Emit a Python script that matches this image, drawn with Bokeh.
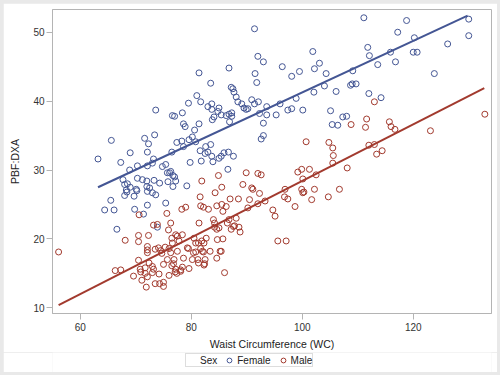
from bokeh.plotting import figure
from bokeh.layouts import column
from bokeh.models import Range1d, SingleIntervalTicker, Legend, LegendItem, AllLabels
from bokeh.embed import file_html
from bokeh.resources import INLINE

# ---------------- data ----------------
female_wc = [63.2, 64.4, 65.5, 65.6, 66.1, 66.6, 67.3, 67.7, 68.0, 68.4,
             68.5, 68.9, 69.0, 69.7, 69.8, 70.2, 70.3, 70.3, 71.2, 71.4,
             71.6, 72.0, 72.1, 72.1, 72.1, 72.1, 72.3, 73.0, 73.0, 73.2,
             73.3, 73.4, 73.6, 73.6, 73.9, 74.8, 75.4, 75.4, 75.7, 76.3,
             76.5, 76.7, 76.6, 77.0, 77.2, 77.4, 78.3, 78.4, 78.6, 78.6,
             78.9, 79.5, 79.6, 79.8, 80.2, 80.6, 80.8, 81.0, 81.4, 81.4,
             81.6, 81.7, 81.8, 82.5, 82.6, 83.0, 83.0, 83.5, 83.5, 83.7,
             83.7, 83.7, 83.8, 83.9, 84.1, 84.8, 85.0, 85.0, 85.4, 85.4,
             85.9, 86.3, 86.6, 86.7, 86.8, 86.8, 86.9, 87.2, 87.3, 87.3,
             87.5, 87.6, 87.7, 88.1, 88.4, 89.1, 89.5, 89.9, 90.2, 90.9,
             91.4, 91.4, 91.5, 91.8, 92.0, 92.1, 92.3, 92.6, 93.0, 93.0,
             93.0, 93.6, 93.6, 95.3, 96.0, 96.4, 97.4, 98.1, 98.1, 98.9,
             99.5, 100.1, 101.9, 102.1, 102.2, 103.1, 104.0, 104.3, 105.1, 105.4,
             106.1, 106.4, 107.3, 108.0, 108.7, 109.0, 109.1, 109.7, 111.1, 111.8,
             112.0, 112.1, 113.6, 114.2, 115.9, 116.8, 117.2, 118.8, 120.0, 120.2,
             120.7, 123.8, 126.2, 130.0, 130.0,
             68.0, 68.3, 69.0, 70.1, 72.0, 72.5, 74.3, 76.7, 79.2, 75.8,
             77.0, 76.1]
female_pbf = [31.6, 24.2, 25.6, 34.3, 24.2, 21.4, 31.1, 28.6, 26.3, 26.8,
              28.0, 30.0, 32.5, 26.2, 24.3, 27.0, 30.6, 28.8, 28.6, 23.6,
              34.6, 28.4, 30.6, 32.6, 24.9, 26.9, 33.8, 31.0, 26.7, 31.6,
              28.5, 35.1, 38.7, 26.4, 21.7, 30.5, 30.8, 25.2, 29.6, 29.8,
              32.6, 29.2, 37.9, 37.8, 28.4, 34.0, 34.2, 38.3, 33.4, 36.7,
              36.3, 39.7, 34.4, 31.1, 34.8, 35.8, 34.1, 40.8, 44.1, 36.7,
              32.8, 39.9, 31.3, 32.4, 33.4, 39.2, 32.6, 42.6, 33.7, 39.6,
              38.8, 32.0, 37.3, 31.2, 37.7, 38.5, 39.0, 31.7, 38.0, 32.0,
              32.5, 37.9, 30.1, 32.6, 44.8, 38.1, 37.0, 42.0, 38.3, 37.8,
              41.8, 32.0, 41.3, 40.6, 39.9, 39.6, 39.0, 38.8, 38.9, 40.2,
              50.5, 39.6, 44.0, 42.7, 46.5, 39.9, 38.2, 34.5, 45.7, 36.8,
              35.0, 39.2, 38.0, 38.0, 39.6, 45.0, 38.7, 38.9, 43.6, 40.4,
              44.3, 38.7, 47.2, 41.3, 44.7, 45.5, 42.2, 44.0, 38.6, 36.6,
              41.4, 36.5, 37.7, 37.8, 42.3, 42.5, 44.4, 42.5, 52.1, 47.8,
              41.1, 46.6, 45.3, 40.5, 47.1, 45.7, 50.0, 51.7, 47.1, 49.2,
              47.1, 44.0, 48.3, 51.9, 49.5,
              27.9, 27.1, 27.5, 27.2, 27.6, 27.4, 28.1, 27.6, 27.7, 28.3,
              29.0, 29.6]

male_wc = [56.1, 66.3, 67.3, 68.1, 69.6, 70.5, 70.5, 70.5, 70.6, 70.8,
           70.9, 71.1, 71.7, 71.7, 71.9, 72.1, 72.1, 72.1, 72.3, 72.1,
           72.4, 73.2, 73.0, 73.2, 73.0, 73.5, 73.5, 73.9, 74.1, 74.5,
           74.7, 74.2, 74.3, 75.0, 75.0, 75.0, 75.3, 75.6, 75.7, 75.9,
           76.3, 76.0, 76.0, 76.3, 76.5, 76.6, 76.5, 76.8, 76.9, 77.1,
           77.2, 77.4, 77.2, 77.5, 77.5, 77.8, 78.1, 78.1, 78.3, 78.4,
           78.6, 78.4, 79.0, 79.3, 79.5, 79.6, 80.2, 80.4, 80.8, 80.5,
           80.8, 81.3, 81.4, 81.6, 81.7, 82.2, 81.7, 82.3, 82.5, 82.3,
           82.0, 82.7, 83.1, 83.4, 84.0, 84.2, 84.2, 84.3, 84.6, 84.6,
           85.0, 84.6, 84.7, 85.2, 85.5, 85.7, 85.7, 86.0, 86.3, 86.5,
           86.8, 87.0, 87.2, 87.6, 88.1, 88.5, 88.6, 88.8, 90.5, 90.2,
           92.3, 92.0, 93.3, 94.7, 95.1, 95.6, 97.1, 96.8, 97.4, 98.7,
           100.1, 101.7, 104.7, 106.7, 81.9, 84.9, 85.5, 89.3, 89.9, 90.9,
           91.1, 92.0, 92.6, 96.9, 99.2, 99.9, 100.1, 99.9, 101.3, 100.7,
           102.2, 102.5, 104.8, 105.5, 105.6, 105.5, 108.1, 108.8, 111.4, 111.6,
           112.0, 113.0, 113.4, 114.4, 115.7, 116.0, 116.7, 123.1, 132.9, 113.0,
           82.4, 81.2, 85.4, 87.8, 82.2, 81.3, 81.9, 100.3]
male_pbf = [18.1, 15.4, 15.5, 19.8, 14.6, 16.9, 20.5, 19.6, 23.5, 15.6,
            15.2, 14.0, 15.8, 15.0, 13.0, 18.4, 18.0, 18.9, 20.5, 14.5,
            16.5, 22.0, 16.0, 15.6, 15.1, 18.5, 13.5, 22.1, 18.7, 18.3,
            17.9, 14.9, 13.5, 13.7, 13.1, 16.3, 18.8, 23.7, 17.0, 21.3,
            22.3, 14.7, 18.6, 18.0, 20.1, 19.4, 16.1, 16.4, 17.0, 15.2,
            15.6, 15.0, 20.6, 20.4, 18.2, 19.7, 15.3, 15.5, 24.3, 15.9,
            17.2, 20.6, 24.6, 18.7, 18.6, 15.7, 17.0, 18.0, 18.1, 20.1,
            19.4, 16.5, 22.3, 26.1, 24.8, 24.6, 18.6, 16.2, 17.0, 19.4,
            18.2, 20.1, 24.3, 18.2, 22.8, 22.3, 21.7, 26.7, 24.8, 21.4,
            21.6, 17.2, 19.9, 18.2, 25.0, 20.0, 24.0, 15.1, 24.7, 22.3,
            22.8, 25.8, 21.4, 21.8, 23.0, 25.8, 21.7, 21.0, 25.7, 24.5,
            26.6, 25.1, 25.5, 24.2, 23.3, 19.7, 19.7, 26.1, 25.8, 24.7,
            26.7, 25.7, 26.1, 27.2, 28.4, 29.2, 27.5, 27.9, 29.6, 27.4,
            27.2, 29.5, 29.3, 27.2, 29.7, 30.1, 28.7, 27.2, 30.1, 34.1,
            27.2, 29.3, 34.0, 33.2, 32.1, 31.0, 30.3, 36.6, 36.2, 37.4,
            33.6, 33.7, 32.3, 32.8, 37.0, 36.3, 35.9, 35.7, 38.1, 39.9,
            16.4, 17.0, 18.2, 21.9, 18.1, 19.4, 19.7, 26.8]

# regression fit lines (end points)
female_fit_wc = [63.2, 129.8]
female_fit_pbf = [27.5, 52.4]
male_fit_wc = [56.1, 132.8]
male_fit_pbf = [10.4, 41.9]

x_tick_step = 20
y_tick_step = 10
legend_title = "Sex"
group_labels = ["Female", "Male"]

# ---------------- styling ----------------
BLUE = "#445694"
RED = "#A23A2E"
GREY = "#b4b4b4"
FONT = "Liberation Sans"
W = 494

p = figure(width=W, height=349, output_backend="svg", toolbar_location=None,
           x_range=Range1d(55.0, 134.1), y_range=Range1d(9.17, 53.3),
           min_border_left=49, min_border_right=6, min_border_top=6,
           min_border_bottom=38)
p.margin = (3, 3, 0, 3)
p.xgrid.visible = False
p.ygrid.visible = False
p.outline_line_color = GREY
p.outline_line_width = 1
p.background_fill_color = "white"
p.border_fill_color = "white"

fr = p.scatter(female_wc, female_pbf, marker="circle", size=6,
               fill_color=None, line_color=BLUE, line_width=1)
mr = p.scatter(male_wc, male_pbf, marker="circle", size=6,
               fill_color=None, line_color=RED, line_width=1)
p.line(female_fit_wc, female_fit_pbf, line_color=BLUE, line_width=2)
p.line(male_fit_wc, male_fit_pbf, line_color=RED, line_width=2)

p.xaxis.ticker = SingleIntervalTicker(interval=x_tick_step, num_minor_ticks=0)
p.yaxis.ticker = SingleIntervalTicker(interval=y_tick_step, num_minor_ticks=0)
for ax in (p.xaxis, p.yaxis):
    ax.major_label_policy = AllLabels()
    ax.axis_line_color = GREY
    ax.major_tick_line_color = GREY
    ax.major_tick_out = 6
    ax.major_tick_in = 0
    ax.minor_tick_line_color = None
    ax.major_label_text_font = FONT
    ax.major_label_text_font_size = "10px"
    ax.major_label_text_color = "#333333"
    ax.axis_label_text_font = FONT
    ax.axis_label_text_font_size = "10.5px"
    ax.axis_label_text_font_style = "normal"
    ax.axis_label_text_color = "#222222"
p.xaxis.axis_label = "Waist Circumference (WC)"
p.yaxis.axis_label = "PBF:DXA"
p.xaxis.major_label_standoff = 3
p.xaxis.axis_label_standoff = 4
p.yaxis.major_label_standoff = 2
p.yaxis.axis_label_standoff = 9

# ---------------- legend strip below the plot ----------------
lg = figure(width=W, height=20, output_backend="svg", toolbar_location=None,
            x_range=Range1d(0, 1), y_range=Range1d(0, 1),
            min_border_left=0, min_border_right=0, min_border_top=0,
            min_border_bottom=0)
lg.margin = (0, 3, 3, 3)
lg.axis.visible = False
lg.xgrid.visible = False
lg.ygrid.visible = False
lg.outline_line_color = None
lg.border_fill_color = "white"
lg.background_fill_color = "white"
# off-range placeholder points: only used so the legend can draw its keys
d_title = lg.scatter([-5], [-5], marker="circle", size=5,
                     fill_color=None, line_color=None)
d_f = lg.scatter([-5], [-5], marker="circle", size=5,
                 fill_color=None, line_color=BLUE, line_width=1)
d_m = lg.scatter([-5], [-5], marker="circle", size=5,
                 fill_color=None, line_color=RED, line_width=1)
legend = Legend(items=[LegendItem(label=legend_title, renderers=[d_title]),
                       LegendItem(label=group_labels[0], renderers=[d_f]),
                       LegendItem(label=group_labels[1], renderers=[d_m])],
                orientation="horizontal", location=(133, 5))
legend.label_text_font = FONT
legend.label_text_font_size = "10px"
legend.label_text_color = "#222222"
legend.label_height = 10
legend.label_width = 0
legend.label_standoff = 2
legend.glyph_width = 12
legend.glyph_height = 12
legend.spacing = 6
legend.padding = 0
legend.margin = 0
legend.border_line_color = "#bbbbbb"
legend.border_line_width = 1
legend.background_fill_color = "white"
lg.add_layout(legend)

layout = column(p, lg, spacing=0, styles={"background-color": "#e9e9e9"})
open("out.html", "w").write(file_html(layout, INLINE))
